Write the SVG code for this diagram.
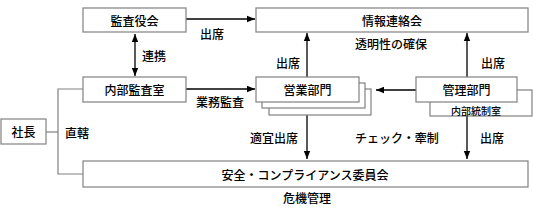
<svg xmlns="http://www.w3.org/2000/svg" width="533" height="219" viewBox="0 0 533 219">
<style>
.box{fill:#fff;stroke:#808080;stroke-width:1.2}
.ln{fill:none;stroke:#808080;stroke-width:1.2}
.ar{fill:none;stroke:#000;stroke-width:1.3}
text{font-family:"Noto Sans CJK JP","Noto Sans",sans-serif;font-size:12px;font-weight:500;fill:#000;text-anchor:middle;dominant-baseline:central}
.sm{font-size:10px}
</style>
<defs>
<marker id="ah" viewBox="0 0 10 10" refX="10" refY="5" markerWidth="8" markerHeight="8" markerUnits="userSpaceOnUse" orient="auto-start-reverse"><path d="M0,1 L10,5 L0,9 Z" fill="#000"/></marker>
</defs>
<rect width="533" height="219" fill="#fff"/>
<g id="connectors">
<path class="ar" d="M186,19 H255" marker-end="url(#ah)"/>
<path class="ar" d="M135,34 V76" marker-start="url(#ah)" marker-end="url(#ah)"/>
<path class="ar" d="M186,89 H255" marker-end="url(#ah)"/>
<path class="ar" d="M307,77 V33" marker-end="url(#ah)"/>
<path class="ar" d="M467,77 V33" marker-end="url(#ah)"/>
<path class="ar" d="M416,90 H376" marker-end="url(#ah)"/>
<path class="ar" d="M307,115 V159" marker-end="url(#ah)"/>
<path class="ar" d="M467,116 V159" marker-end="url(#ah)"/>
<path class="ln" d="M83,89 H58 V174 H83"/>
<path class="ln" d="M46,132 H58"/>
</g>
<g id="kansayakukai"><rect class="box" x="83" y="8" width="103" height="24"/><text x="134.5" y="20">監査役会</text></g>
<g id="jouhourenrakukai"><rect class="box" x="256" y="8" width="272" height="24"/><text x="392" y="20">情報連絡会</text></g>
<g id="naibukansashitsu"><rect class="box" x="83" y="77" width="103" height="25"/><text x="134.5" y="89.5">内部監査室</text></g>
<g id="eigyoubumon">
<rect class="box" x="269" y="89" width="102" height="26"/>
<rect class="box" x="262" y="83" width="103" height="25"/>
<rect class="box" x="256" y="77" width="103" height="25"/>
<text x="307.5" y="89.5">営業部門</text>
</g>
<g id="kanribumon">
<rect class="box" x="430" y="90" width="102" height="26"/>
<text class="sm" x="476" y="110.5">内部統制室</text>
<rect class="box" x="416" y="77" width="101" height="25"/>
<text x="466.5" y="89.5">管理部門</text>
</g>
<g id="shachou"><rect class="box" x="1" y="119" width="45" height="25"/><text x="23.5" y="131.5">社長</text></g>
<g id="iinkai"><rect class="box" x="83" y="161" width="445" height="26"/><text x="305" y="174">安全・コンプライアンス委員会</text></g>
<g id="labels">
<text x="212" y="33">出席</text>
<text x="154" y="55">連携</text>
<text x="220" y="101">業務監査</text>
<text x="391" y="43">透明性の確保</text>
<text x="288" y="62">出席</text>
<text x="493" y="62">出席</text>
<text x="77" y="132">直轄</text>
<text x="274" y="137">適宜出席</text>
<text x="397" y="137">チェック・牽制</text>
<text x="492" y="137">出席</text>
<text x="307" y="197">危機管理</text>
</g>
</svg>
